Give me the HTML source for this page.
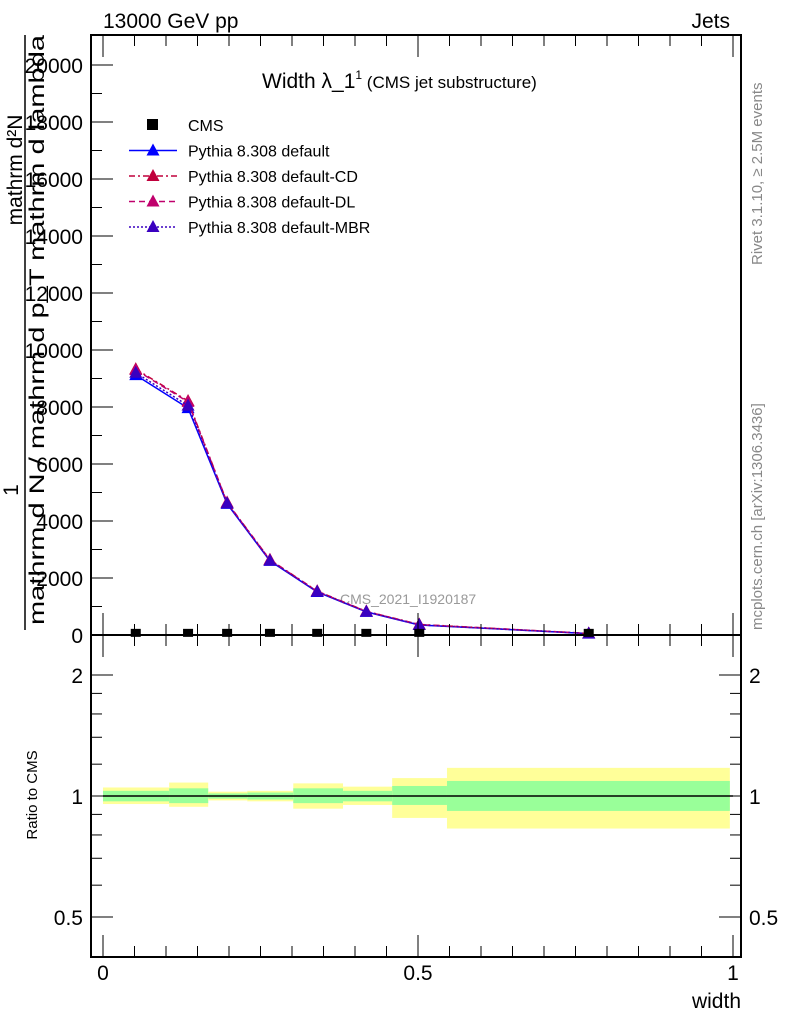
<!DOCTYPE html>
<html><head><meta charset="utf-8"><style>
body{margin:0;background:#fff;}
svg{display:block;font-family:"Liberation Sans",sans-serif;}
</style></head><body>
<svg id="chart" width="786" height="1024" viewBox="0 0 786 1024">
<text x="103" y="28" font-size="21">13000 GeV pp</text>
<text x="730" y="28" font-size="21" text-anchor="end">Jets</text>
<text x="262" y="88" font-size="21">Width λ_1<tspan font-size="12" dy="-9">1</tspan><tspan font-size="17" dy="9"> (CMS jet substructure)</tspan></text>
<text transform="translate(762,265) rotate(-90)" font-size="15" fill="#888">Rivet 3.1.10, ≥ 2.5M events</text>
<text transform="translate(762,630) rotate(-90)" font-size="15" fill="#888">mcplots.cern.ch [arXiv:1306.3436]</text>
<text x="340" y="604" font-size="14" fill="#999">CMS_2021_I1920187</text>
<g font-size="21">
<text transform="translate(22,170) rotate(-90)" text-anchor="middle">mathrm d²N</text>
<line x1="25" y1="35" x2="25" y2="630" stroke="#000" stroke-width="1.5"/>
<text transform="translate(18,490) rotate(-90)" text-anchor="middle">1</text>
<text transform="translate(44,625) rotate(-90)" text-anchor="start" textLength="590" lengthAdjust="spacingAndGlyphs">mathrm d N / mathrm d p_T mathrm d lambda</text>
</g>
<text transform="translate(37,795) rotate(-90)" font-size="15" text-anchor="middle">Ratio to CMS</text>
<text x="741" y="1008" font-size="21" text-anchor="end">width</text>
<g id="bands"></g><g id="main"></g><g id="axes"></g>
<g id="legend" font-size="16"></g>
</svg>
<script>
const xEdges=[0,0.105,0.167,0.229,0.302,0.381,0.459,0.546,0.995];
const xMid=[0.052,0.135,0.197,0.265,0.340,0.418,0.502,0.771];
const cmsVals=[40,40,40,40,40,40,40,40];
const defaultVals=[9120,7960,4600,2600,1510,810,350,50];
const cdVals=[9330,8210,4650,2640,1540,830,370,55];
const dlVals=[9300,8180,4640,2630,1530,825,365,55];
const mbrVals=[9200,8050,4620,2610,1520,815,355,52];
const totUp=[1.05,1.08,1.025,1.03,1.075,1.055,1.108,1.175];
const totDn=[0.955,0.94,0.975,0.97,0.93,0.95,0.882,0.83];
const statUp=[1.03,1.045,1.015,1.02,1.045,1.03,1.059,1.09];
const statDn=[0.97,0.96,0.985,0.98,0.96,0.97,0.95,0.918];
const yTicks=[0,2000,4000,6000,8000,10000,12000,14000,16000,18000,20000];
const rTicks=[0.5,1,2];
const NS="http://www.w3.org/2000/svg";
const X0=91,X1=741,T=35,M=635,B=957;
const xs=v=>103+v*630;
const ys=v=>635-v*0.0285;
const rs=v=>796-Math.log2(v)*121;
function mk(p,tag,a){const e=document.createElementNS(NS,tag);for(const k in a)e.setAttribute(k,a[k]);p.appendChild(e);return e;}
const bands=document.getElementById('bands'),main=document.getElementById('main'),axes=document.getElementById('axes'),leg=document.getElementById('legend');
for(let i=0;i<xMid.length;i++){
 const y=mk(bands,'rect',{x:xs(xEdges[i]),y:rs(totUp[i]),width:xs(xEdges[i+1])-xs(xEdges[i]),height:rs(totDn[i])-rs(totUp[i]),fill:'#ffff99'});
 
 const g=mk(bands,'rect',{x:xs(xEdges[i]),y:rs(statUp[i]),width:xs(xEdges[i+1])-xs(xEdges[i]),height:rs(statDn[i])-rs(statUp[i]),fill:'#99ff99'});
 
}
const ln=mk(bands,'line',{x1:xs(0),x2:xs(1),y1:rs(1),y2:rs(1),stroke:'#000','stroke-width':1.5});

const series=[[defaultVals,'#0000ff','','default'],[cdVals,'#c0003c','6,3,2,3','cd'],[dlVals,'#c0006c','6,4','dl'],[mbrVals,'#3a00c0','2,2','mbr']];
function tri(p,x,y,c){return mk(p,'path',{d:`M${x},${y-7}L${x+6.5},${y+5}L${x-6.5},${y+5}Z`,fill:c});}
series.forEach(([v,c,d,n])=>{
 const pl=mk(main,'polyline',{points:v.map((y,i)=>xs(xMid[i])+','+ys(y)).join(' '),fill:'none',stroke:c,'stroke-width':1.5,'stroke-dasharray':d});
 
 v.forEach((y,i)=>{const t=tri(main,xs(xMid[i]),ys(y),c);
 });
});
cmsVals.forEach((v,i)=>{const r=mk(main,'rect',{x:xs(xMid[i])-5,y:ys(v)-5,width:10,height:8,fill:'#000'});
 });
const f1=mk(axes,'rect',{x:X0,y:T,width:X1-X0,height:M-T,fill:'none',stroke:'#000','stroke-width':2});

const f2=mk(axes,'rect',{x:X0,y:M,width:X1-X0,height:B-M,fill:'none',stroke:'#000','stroke-width':2});

yTicks.forEach(v=>{const y=ys(v);mk(axes,'line',{x1:X0,x2:X0+22,y1:y,y2:y,stroke:'#000'});
 const t=mk(axes,'text',{x:83,y:y+8,'font-size':21,'text-anchor':'end'});t.textContent=v;
 
 if(v<20000)mk(axes,'line',{x1:X0,x2:X0+11,y1:ys(v+1000),y2:ys(v+1000),stroke:'#000'});});
rTicks.forEach(v=>{const y=rs(v);mk(axes,'line',{x1:X0,x2:X0+22,y1:y,y2:y,stroke:'#000'});mk(axes,'line',{x1:X1-22,x2:X1,y1:y,y2:y,stroke:'#000'});
 const t=mk(axes,'text',{x:83,y:y+8,'font-size':21,'text-anchor':'end'});t.textContent=v;
 
 const t2=mk(axes,'text',{x:749,y:y+8,'font-size':21});t2.textContent=v;
 });
[0.6,0.7,0.8,0.9,1.2,1.4,1.6,1.8].forEach(v=>{const y=rs(v);mk(axes,'line',{x1:X0,x2:X0+11,y1:y,y2:y,stroke:'#000'});mk(axes,'line',{x1:X1-11,x2:X1,y1:y,y2:y,stroke:'#000'});});
for(let k=0;k<=20;k++){const v=k*0.05;const x=xs(v);const L=k%10==0?22:11;
 [[M,-1],[B,-1],[T,1],[M,1]].forEach(([y0,s])=>mk(axes,'line',{x1:x,x2:x,y1:y0,y2:y0+s*L,stroke:'#000'}));}
[0,0.5,1].forEach(v=>{const t=mk(axes,'text',{x:xs(v),y:980,'font-size':21,'text-anchor':'middle'});t.textContent=v;
 });
const L=[['CMS','#000','',1],['Pythia 8.308 default','#0000ff','',0],['Pythia 8.308 default-CD','#c0003c','6,3,2,3',0],['Pythia 8.308 default-DL','#c0006c','6,4',0],['Pythia 8.308 default-MBR','#3a00c0','2,2',0]];
L.forEach(([n,c,d,sq],i)=>{const y=125+i*25.5;
 const g=mk(leg,'g',{});
 if(sq)mk(g,'rect',{x:147,y:y-6,width:11,height:11,fill:c});
 else{mk(g,'line',{x1:129,x2:177,y1:y,y2:y,stroke:c,'stroke-width':1.5,'stroke-dasharray':d});tri(g,153,y,c);}
 const t=mk(g,'text',{x:188,y:y+6,'font-size':16});t.textContent=n;});
</script>
</body></html>
